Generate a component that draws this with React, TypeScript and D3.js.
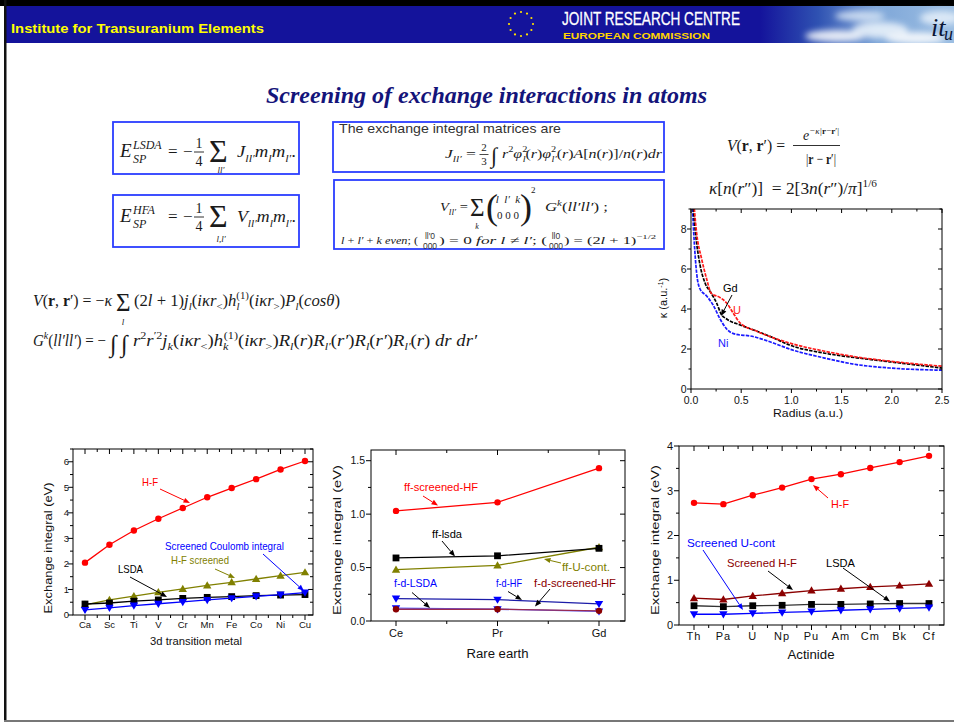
import React from "react";
import * as d3 from "d3";

/* ---------------- data ---------------- */
const tmCats = ["Ca", "Sc", "Ti", "V", "Cr", "Mn", "Fe", "Co", "Ni", "Cu"];
const tmHF = [2.05, 2.75, 3.31, 3.77, 4.19, 4.61, 4.97, 5.32, 5.7, 6.03];
const tmHFscreened = [0.4, 0.59, 0.74, 0.89, 1.02, 1.16, 1.28, 1.41, 1.54, 1.67];
const tmLSDA = [0.43, 0.47, 0.54, 0.59, 0.65, 0.69, 0.72, 0.76, 0.78, 0.8];
const tmScreenedCoulomb = [0.2, 0.28, 0.37, 0.44, 0.51, 0.59, 0.66, 0.73, 0.8, 0.88];

const reCats = ["Ce", "Pr", "Gd"];
const reFFscreenedHF = [1.03, 1.11, 1.43];
const reFFlsda = [0.59, 0.61, 0.68];
const reFFUcont = [0.48, 0.52, 0.69];
const reFdHF = [0.21, 0.2, 0.16];
const reFdLSDA = [0.12, 0.11, 0.09];
const reFdScreenedHF = [0.11, 0.11, 0.095];

const acCats = ["Th", "Pa", "U", "Np", "Pu", "Am", "Cm", "Bk", "Cf"];
const acHF = [2.73, 2.7, 2.9, 3.07, 3.26, 3.37, 3.51, 3.64, 3.78];
const acScreenedHF = [0.6, 0.57, 0.65, 0.71, 0.77, 0.81, 0.85, 0.88, 0.92];
const acLSDA = [0.43, 0.41, 0.43, 0.44, 0.46, 0.46, 0.47, 0.48, 0.48];
const acScreenedU = [0.24, 0.24, 0.26, 0.28, 0.3, 0.33, 0.35, 0.37, 0.39];

const niRadius = [0.01, 0.033, 0.056, 0.09, 0.156, 0.22, 0.29, 0.355, 0.45, 0.59, 0.82, 0.98, 1.32, 1.65, 1.98, 2.5];
const niKappa = [9.5, 7.3, 5.8, 5.0, 4.65, 4.2, 3.5, 3.0, 2.73, 2.65, 2.3, 2.0, 1.56, 1.22, 1.05, 0.94];
const gdRadius = [0.015, 0.056, 0.09, 0.14, 0.2, 0.255, 0.3, 0.355, 0.49, 0.65, 0.82, 0.98, 1.32, 1.65, 1.98, 2.5];
const gdKappa = [9.5, 7.3, 6.2, 5.3, 4.8, 4.3, 3.75, 3.5, 3.2, 2.9, 2.56, 2.2, 1.8, 1.56, 1.36, 1.05];
const uRadius = [0.025, 0.056, 0.106, 0.156, 0.2, 0.29, 0.355, 0.42, 0.49, 0.65, 0.98, 1.32, 1.65, 1.98, 2.5];
const uKappa = [9.5, 7.8, 6.5, 5.5, 4.8, 4.57, 4.3, 3.8, 3.3, 2.9, 2.3, 1.9, 1.6, 1.39, 1.14];

/* ---------------- styles ---------------- */
const SANS = "'Liberation Sans', Arial, Helvetica, sans-serif";
const SERIF = "'Liberation Serif', 'Times New Roman', Times, serif";
const BOX = "#2b3dff";

type Part = [string, string, number?];

function MT({ x, y, size, parts, len, fill = "#1a1a1a", anchor }: { x: number; y: number; size: number; parts: Part[]; len?: number; fill?: string; anchor?: string }) {
  let cur = 0;
  const spans = parts.map((p, i) => {
    const [t, m, dx] = p;
    const sub = m.includes("_");
    const sup = m.includes("^");
    const target = sub ? size * 0.28 : sup ? -size * 0.42 : 0;
    const dy = target - cur;
    cur = target;
    return (
      <tspan key={i} dx={dx} dy={dy} fontSize={sub || sup ? size * 0.65 : size}
        fontStyle={m.includes("n") || m.includes("b") ? "normal" : "italic"}
        fontWeight={m.includes("b") ? "bold" : "normal"}>{t}</tspan>
    );
  });
  return (
    <text x={x} y={y} fontFamily={SERIF} fontSize={size} fill={fill} textAnchor={anchor as any}
      textLength={len} lengthAdjust={len ? "spacingAndGlyphs" : undefined} style={{ whiteSpace: "pre" }}>
      {spans}
    </text>
  );
}

function Tx(props: any) {
  const { len, children, ...rest } = props;
  return (
    <text fontFamily={SANS} textLength={len} lengthAdjust={len ? "spacingAndGlyphs" : undefined} style={{ whiteSpace: "pre" }} {...rest}>
      {children}
    </text>
  );
}

function Mark({ kind, x, y, color }: { kind: string; x: number; y: number; color: string }) {
  if (kind === "circle") return <circle cx={x} cy={y} r={3.2} fill={color} />;
  if (kind === "square") return <rect x={x - 3.4} y={y - 3.4} width={6.8} height={6.8} fill={color} />;
  if (kind === "tri") return <path d={`M${x},${y - 4.2}L${x + 4.2},${y + 3}L${x - 4.2},${y + 3}Z`} fill={color} />;
  return <path d={`M${x},${y + 4.2}L${x + 4.2},${y - 3}L${x - 4.2},${y - 3}Z`} fill={color} />;
}

function Arrow({ x1, y1, x2, y2, color = "#000" }: { x1: number; y1: number; x2: number; y2: number; color?: string }) {
  const a = Math.atan2(y2 - y1, x2 - x1);
  const L = 6.5, W = 2.6;
  const bx = x2 - L * Math.cos(a), by = y2 - L * Math.sin(a);
  const px = -Math.sin(a) * W, py = Math.cos(a) * W;
  return (
    <g>
      <line x1={x1} y1={y1} x2={bx} y2={by} stroke={color} strokeWidth={1} />
      <path d={`M${x2},${y2}L${bx + px},${by + py}L${bx - px},${by - py}Z`} fill={color} />
    </g>
  );
}

type Series = { vals: number[]; color: string; line?: string; kind: string };

function CatChart(p: {
  cats: string[]; series: Series[]; L: number; R: number; T: number; B: number; xr: [number, number];
  yMax: number; yStep: number; yMinor: number; fmt: (v: number) => string; tickFont: number; tickX: number;
  catY: number; catFont: number; catLS?: number; children?: any;
}) {
  const x = d3.scalePoint<string>().domain(p.cats).range(p.xr);
  const y = d3.scaleLinear().domain([0, p.yMax]).range([p.B, p.T]);
  const majors = d3.range(0, p.yMax + 1e-9, p.yStep);
  const minors = d3.range(0, p.yMax + 1e-9, p.yMinor).filter((v) => !majors.some((m) => Math.abs(m - v) < 1e-9));
  const step = x.step();
  const xMinor = [x(p.cats[0])! - step / 2, ...p.cats.map((c) => x(c)! + step / 2)].filter((v) => v > p.L + 1 && v < p.R - 1);
  const line = d3.line<number>().x((_, i) => x(p.cats[i])!).y((d) => y(d));
  return (
    <g>
      <rect x={p.L} y={p.T} width={p.R - p.L} height={p.B - p.T} fill="none" stroke="#000" strokeWidth={1} />
      {majors.map((v) => (
        <g key={"M" + v}>
          <line x1={p.L - 5} x2={p.L} y1={y(v)} y2={y(v)} stroke="#000" />
          <line x1={p.R} x2={p.R - 5} y1={y(v)} y2={y(v)} stroke="#000" />
          <Tx x={p.tickX} y={y(v) + p.tickFont * 0.36} textAnchor="end" fontSize={p.tickFont} fill="#111">{p.fmt(v)}</Tx>
        </g>
      ))}
      {minors.map((v) => (
        <g key={"m" + v}>
          <line x1={p.L - 3} x2={p.L} y1={y(v)} y2={y(v)} stroke="#000" />
          <line x1={p.R} x2={p.R - 3} y1={y(v)} y2={y(v)} stroke="#000" />
        </g>
      ))}
      {p.cats.map((c) => (
        <g key={c}>
          <line x1={x(c)} x2={x(c)} y1={p.B} y2={p.B + 5} stroke="#000" />
          <line x1={x(c)} x2={x(c)} y1={p.T} y2={p.T + 5} stroke="#000" />
          <Tx x={x(c)} y={p.catY} textAnchor="middle" fontSize={p.catFont} letterSpacing={p.catLS || 0} fill="#111">{c}</Tx>
        </g>
      ))}
      {xMinor.map((v, i) => (
        <g key={"xm" + i}>
          <line x1={v} x2={v} y1={p.B} y2={p.B + 3} stroke="#000" />
          <line x1={v} x2={v} y1={p.T} y2={p.T + 3} stroke="#000" />
        </g>
      ))}
      {p.series.map((s, i) => (
        <g key={i}>
          <path d={line(s.vals)!} fill="none" stroke={s.line || s.color} strokeWidth={1.3} />
          {s.vals.map((v, j) => (
            <Mark key={j} kind={s.kind} x={x(p.cats[j])!} y={y(v)} color={s.color} />
          ))}
        </g>
      ))}
      {p.children}
    </g>
  );
}

function KappaChart() {
  const L = 691, R = 942, T = 209, B = 389;
  const x = d3.scaleLinear().domain([0, 2.5]).range([L, R]);
  const y = d3.scaleLinear().domain([0, 9]).range([B, T]);
  const xMaj = d3.range(0, 2.51, 0.5);
  const xMin = d3.range(0.25, 2.5, 0.5);
  const yMaj = [0, 2, 4, 6, 8];
  const yMin = [1, 3, 5, 7, 9];
  const curves = [
    { r: niRadius, k: niKappa, c: "#1a1aff" },
    { r: gdRadius, k: gdKappa, c: "#000" },
    { r: uRadius, k: uKappa, c: "#ff1a1a" },
  ];
  const mk = (r: number[], k: number[]) =>
    d3.line<number>().x((_, i) => x(r[i])).y((d) => y(d)).curve(d3.curveMonotoneX)(k)!;
  return (
    <g>
      <defs>
        <clipPath id="kclip"><rect x={L} y={T} width={R - L} height={B - T} /></clipPath>
      </defs>
      <g clipPath="url(#kclip)">
        {curves.map((c, i) => (
          <path key={i} d={mk(c.r, c.k)} fill="none" stroke={c.c} strokeWidth={1.7} strokeDasharray="3.5,1.2" />
        ))}
      </g>
      <rect x={L} y={T} width={R - L} height={B - T} fill="none" stroke="#000" />
      {xMaj.map((v) => (
        <g key={"x" + v}>
          <line x1={x(v)} x2={x(v)} y1={B} y2={B + 4} stroke="#000" />
          <line x1={x(v)} x2={x(v)} y1={T} y2={T + 4} stroke="#000" />
          <Tx x={x(v)} y={404} textAnchor="middle" fontSize={10.5} fill="#111">{v.toFixed(1)}</Tx>
        </g>
      ))}
      {xMin.map((v) => (
        <g key={"xm" + v}>
          <line x1={x(v)} x2={x(v)} y1={B} y2={B + 2.5} stroke="#000" />
          <line x1={x(v)} x2={x(v)} y1={T} y2={T + 2.5} stroke="#000" />
        </g>
      ))}
      {yMaj.map((v) => (
        <g key={"y" + v}>
          <line x1={L - 4} x2={L} y1={y(v)} y2={y(v)} stroke="#000" />
          <line x1={R} x2={R - 4} y1={y(v)} y2={y(v)} stroke="#000" />
          <Tx x={686.5} y={y(v) + 3.8} textAnchor="end" fontSize={10.5} fill="#111">{v}</Tx>
        </g>
      ))}
      {yMin.map((v) => (
        <g key={"ym" + v}>
          <line x1={L - 2.5} x2={L} y1={y(v)} y2={y(v)} stroke="#000" />
          <line x1={R} x2={R - 2.5} y1={y(v)} y2={y(v)} stroke="#000" />
        </g>
      ))}
      <Tx x={808} y={417} textAnchor="middle" fontSize={11.5} len={70} fill="#111">Radius (a.u.)</Tx>
      <g transform="translate(667,298) rotate(-90)">
        <Tx x={0} y={0} textAnchor="middle" fontSize={11} fill="#111">κ (a.u.<tspan dy={-4} fontSize={7}>-1</tspan><tspan dy={4}>)</tspan></Tx>
      </g>
      <Tx x={723} y={292} fontSize={11} fill="#000">Gd</Tx>
      <Arrow x1={732} y1={295} x2={721} y2={316} />
      <Tx x={733} y={314} fontSize={11} fill="#ff1a1a">U</Tx>
      <Tx x={718} y={347} fontSize={11} fill="#1a1aff">Ni</Tx>
    </g>
  );
}

function YTitle({ x, y, len, size = 11.5, ls = 0 }: { x: number; y: number; len: number; size?: number; ls?: number }) {
  return (
    <g transform={`translate(${x},${y}) rotate(-90)`}>
      <Tx x={0} y={0} textAnchor="middle" fontSize={size} len={len} letterSpacing={ls} fill="#111">Exchange integral (eV)</Tx>
    </g>
  );
}

function Header() {
  const stars = d3.range(12).map((i) => {
    const a = (i / 12) * Math.PI * 2;
    return [521 + 12 * Math.cos(a), 24 + 12 * Math.sin(a)];
  });
  return (
    <g>
      <defs>
        <linearGradient id="sky" x1="0" x2="1" y1="0" y2="0">
          <stop offset="0" stopColor="#14139b" />
          <stop offset="0.3" stopColor="#2f52b2" />
          <stop offset="0.6" stopColor="#7ea6d8" />
          <stop offset="1" stopColor="#9dbfe3" />
        </linearGradient>
        <filter id="blur" x="-50%" y="-50%" width="200%" height="200%"><feGaussianBlur stdDeviation="3" /></filter>
      </defs>
      <rect x={0} y={0} width={954} height={6} fill="#000" />
      <rect x={5} y={6} width={949} height={37} fill="#14139b" />
      <rect x={760} y={6} width={194} height={37} fill="url(#sky)" />
      <g filter="url(#blur)" opacity={0.85}>
        <ellipse cx={835} cy={36} rx={30} ry={6} fill="#fff" />
        <ellipse cx={880} cy={30} rx={28} ry={8} fill="#eef5fc" />
        <ellipse cx={915} cy={38} rx={30} ry={6} fill="#fff" />
        <ellipse cx={860} cy={16} rx={25} ry={5} fill="#dbe8f7" />
        <ellipse cx={940} cy={18} rx={20} ry={7} fill="#e6f0fa" />
      </g>
      {stars.map((s, i) => (
        <circle key={i} cx={s[0]} cy={s[1]} r={1.1} fill="#ffe000" />
      ))}
      <Tx x={11} y={33} fontSize={13} fontWeight="bold" fill="#ffff00" len={253}>Institute for Transuranium Elements</Tx>
      <Tx x={562} y={25} fontSize={19} fill="#ffffff" len={178} stroke="#ffffff" strokeWidth={0.3}>JOINT RESEARCH CENTRE</Tx>
      <Tx x={563} y={39} fontSize={9} fontWeight="bold" fill="#ffd400" len={147}>EUROPEAN COMMISSION</Tx>
      <text x={931} y={36} fontFamily={SERIF} fontStyle="italic" fontSize={26} fill="#0b1535">it</text>
      <text x={944} y={40} fontFamily={SERIF} fontStyle="italic" fontSize={18} fill="#0b1535">u</text>
    </g>
  );
}

function Equations() {
  return (
    <g fill="#1a1a1a">
      {/* box 1 */}
      <rect x={113} y={122} width={186} height={52} fill="none" stroke={BOX} strokeWidth={1.8} />
      <text x={120} y={157} fontFamily={SERIF} fontStyle="italic" fontSize={19}>E</text>
      <text x={133} y={149} fontFamily={SERIF} fontStyle="italic" fontSize={12}>LSDA</text>
      <text x={133} y={163} fontFamily={SERIF} fontStyle="italic" fontSize={12}>SP</text>
      <text x={168} y={157} fontFamily={SERIF} fontSize={17}>=</text>
      <text x={183} y={157} fontFamily={SERIF} fontSize={17}>−</text>
      <text x={199} y={148} fontFamily={SERIF} fontSize={14} textAnchor="middle">1</text>
      <line x1={194} x2={204} y1={152} y2={152} stroke="#1a1a1a" strokeWidth={0.9} />
      <text x={199} y={166} fontFamily={SERIF} fontSize={14} textAnchor="middle">4</text>
      <text x={209} y={162} fontFamily={SERIF} fontSize={32}>Σ</text>
      <text x={221} y={172.5} fontFamily={SERIF} fontStyle="italic" fontSize={9} textAnchor="middle">ll′</text>
      <MT x={237} y={157} size={17} len={59} parts={[["J", ""], ["ll′", "_"], ["m", ""], ["l", "_"], ["m", ""], ["l′", "_"], [".", "n"]]} />

      {/* box 2 */}
      <rect x={113} y={195} width={186} height={52} fill="none" stroke={BOX} strokeWidth={1.8} />
      <text x={120} y={222} fontFamily={SERIF} fontStyle="italic" fontSize={19}>E</text>
      <text x={133} y={214} fontFamily={SERIF} fontStyle="italic" fontSize={12}>HFA</text>
      <text x={133} y={228} fontFamily={SERIF} fontStyle="italic" fontSize={12}>SP</text>
      <text x={168} y={222} fontFamily={SERIF} fontSize={17}>=</text>
      <text x={183} y={222} fontFamily={SERIF} fontSize={17}>−</text>
      <text x={199} y={213} fontFamily={SERIF} fontSize={14} textAnchor="middle">1</text>
      <line x1={194} x2={204} y1={217} y2={217} stroke="#1a1a1a" strokeWidth={0.9} />
      <text x={199} y={231} fontFamily={SERIF} fontSize={14} textAnchor="middle">4</text>
      <text x={209} y={227} fontFamily={SERIF} fontSize={32}>Σ</text>
      <text x={221} y={242} fontFamily={SERIF} fontStyle="italic" fontSize={9} textAnchor="middle">l,l′</text>
      <MT x={237} y={222} size={17} len={59} parts={[["V", ""], ["ll′", "_"], ["m", ""], ["l", "_"], ["m", ""], ["l′", "_"], [".", "n"]]} />

      {/* box 3 */}
      <rect x={333} y={122} width={331} height={50} fill="none" stroke={BOX} strokeWidth={1.8} />
      <Tx x={339} y={133} fontSize={13.5} fill="#333" len={222}>The exchange integral matrices are</Tx>
      <MT x={445} y={158} size={13.5} len={31} parts={[["J", ""], ["ll′", "_"], [" =", "n"]]} />
      <text x={484} y={151} fontFamily={SERIF} fontSize={11} textAnchor="middle">2</text>
      <line x1={479.5} x2={488.5} y1={154.5} y2={154.5} stroke="#1a1a1a" strokeWidth={0.8} />
      <text x={484} y={165} fontFamily={SERIF} fontSize={11} textAnchor="middle">3</text>
      <text x={491} y={163} fontFamily={SERIF} fontSize={22}>∫</text>
      <MT x={502} y={158} size={13.5} len={160} parts={[["r", ""], ["2", "^n"], ["φ", ""], ["2", "^n"], ["l", "_", -4], ["(", "n"], ["r", ""], [")", "n"], ["φ", ""], ["2", "^n"], ["l′", "_", -4], ["(", "n"], ["r", ""], [")", "n"], ["A", ""], ["[", "n"], ["n", ""], ["(", "n"], ["r", ""], [")]/", "n"], ["n", ""], ["(", "n"], ["r", ""], [")", "n"], ["dr", ""]]} />

      {/* box 4 */}
      <rect x={334} y={180} width={330} height={69} fill="none" stroke={BOX} strokeWidth={1.8} />
      <MT x={440} y={211} size={13} len={28} parts={[["V", ""], ["ll′", "_"], [" =", "n"]]} />
      <text x={470} y={216} fontFamily={SERIF} fontSize={25}>Σ</text>
      <text x={477} y={229} fontFamily={SERIF} fontStyle="italic" fontSize={8} textAnchor="middle">k</text>
      <text x={486} y={219} fontFamily={SERIF} fontSize={36}>(</text>
      <text x={508} y={203} fontFamily={SERIF} fontStyle="italic" fontSize={11} textAnchor="middle" style={{ whiteSpace: "pre" }}>l  l′  k</text>
      <text x={508} y={219} fontFamily={SERIF} fontSize={11} textAnchor="middle" style={{ whiteSpace: "pre" }}>0 0 0</text>
      <text x={520} y={219} fontFamily={SERIF} fontSize={36}>)</text>
      <text x={531} y={193} fontFamily={SERIF} fontSize={9}>2</text>
      <MT x={545} y={211} size={13} len={63} parts={[["G", ""], ["k", "^"], ["(", "n"], ["ll′ll′", ""], [") ;", "n"]]} />
      <MT x={341} y={244} size={11} len={77} parts={[["l", ""], [" + ", "n"], ["l′", ""], [" + ", "n"], ["k even", ""], ["; (", "n"]]} />
      <Tx x={430} y={239} fontSize={8.5} textAnchor="middle" fill="#333">ll′0</Tx>
      <Tx x={430} y={249} fontSize={8.5} textAnchor="middle" fill="#333">000</Tx>
      <MT x={439} y={244} size={11} len={108} parts={[[") = 0 ", "n"], ["for l", ""], [" ≠ ", "n"], ["l′", ""], ["; (", "n"]]} />
      <Tx x={556} y={239} fontSize={8.5} textAnchor="middle" fill="#333">ll0</Tx>
      <Tx x={556} y={249} fontSize={8.5} textAnchor="middle" fill="#333">000</Tx>
      <MT x={564} y={244} size={11} len={92} parts={[[") = (2", "n"], ["l", ""], [" + 1)", "n"], ["−1/2", "^n"]]} />

      {/* right equations */}
      <MT x={727} y={151} size={16} len={58} parts={[["V", ""], ["(", "n"], ["r", "b"], [", ", "n"], ["r", "b"], ["′) =", "n"]]} />
      <MT x={803} y={140} size={14} len={36} parts={[["e", ""], ["−κ|", "^"], ["r", "^b"], ["−", "^n"], ["r", "^b"], ["′|", "^n"]]} />
      <line x1={793} x2={840} y1={145.5} y2={145.5} stroke="#1a1a1a" strokeWidth={0.9} />
      <MT x={806} y={164} size={15} len={30} parts={[["|", "n"], ["r", "b"], [" − ", "n"], ["r", "b"], ["′|", "n"]]} />
      <MT x={709} y={194} size={16} len={168} parts={[["κ", ""], ["[", "n"], ["n", ""], ["(", "n"], ["r", ""], ["″)]  = 2[3", "n"], ["n", ""], ["(", "n"], ["r", ""], ["″)/", "n"], ["π", ""], ["]", "n"], ["1/6", "^n"]]} />

      {/* middle equations */}
      <MT x={33} y={306} size={16} len={79} parts={[["V", ""], ["(", "n"], ["r", "b"], [", ", "n"], ["r", "b"], ["′) = −", "n"], ["κ", ""]]} />
      <text x={116} y={311} fontFamily={SERIF} fontSize={25}>Σ</text>
      <text x={123} y={325} fontFamily={SERIF} fontStyle="italic" fontSize={9} textAnchor="middle">l</text>
      <MT x={134} y={306} size={16} len={206} parts={[["(2", "n"], ["l", ""], [" + 1)", "n"], ["j", ""], ["l", "_"], ["(", "n"], ["iκr", ""], ["<", "_n"], [")", "n"], ["h", ""], ["l", "_"], ["(1)", "^n", -3], ["(", "n"], ["iκr", ""], [">", "_n"], [")", "n"], ["P", ""], ["l", "_"], ["(", "n"], ["cosθ", ""], [")", "n"]]} />
      <MT x={33} y={346} size={16} len={73} parts={[["G", ""], ["k", "^"], ["(", "n"], ["ll′ll′", ""], [") = −", "n"]]} />
      <text x={110} y={352} fontFamily={SERIF} fontSize={24}>∫</text>
      <text x={121} y={352} fontFamily={SERIF} fontSize={24}>∫</text>
      <MT x={133} y={346} size={16} len={344} parts={[["r", ""], ["2", "^n"], ["r", ""], ["′2", "^n"], ["j", ""], ["k", "_"], ["(", "n"], ["iκr", ""], ["<", "_n"], [")", "n"], ["h", ""], ["k", "_"], ["(1)", "^n", -4], ["(", "n"], ["iκr", ""], [">", "_n"], [")", "n"], ["R", ""], ["l", "_"], ["(", "n"], ["r", ""], [")", "n"], ["R", ""], ["l′", "_"], ["(", "n"], ["r′", ""], [")", "n"], ["R", ""], ["l", "_"], ["(", "n"], ["r′", ""], [")", "n"], ["R", ""], ["l′", "_"], ["(", "n"], ["r", ""], [")", "n"], [" dr dr′", ""]]} />
    </g>
  );
}

export default function App() {
  const RED = "#ff0000", OLIVE = "#808000", BLUE = "#0000ff", DRED = "#8b0000", NAVY = "#1c1ca8";
  return (
    <svg width={954} height={723} style={{ position: "absolute", left: 0, top: 0, background: "#fff" }} fontFamily={SANS}>
      <rect x={0} y={0} width={954} height={723} fill="#fff" />
      <Header />
      <text x={266} y={103} fontFamily={SERIF} fontStyle="italic" fontWeight="bold" fontSize={24} fill="#14147a"
        textLength={441} lengthAdjust="spacingAndGlyphs">Screening of exchange interactions in atoms</text>
      <Equations />
      <KappaChart />

      {/* 3d transition metals */}
      <CatChart cats={tmCats} L={73} R={313} T={449} B={615} xr={[85, 305]} yMax={6.5} yStep={1} yMinor={0.5}
        fmt={(v) => String(v)} tickFont={9.5} tickX={69} catY={628} catFont={9.5}
        series={[
          { vals: tmHFscreened, color: OLIVE, kind: "tri" },
          { vals: tmLSDA, color: "#000", kind: "square" },
          { vals: tmScreenedCoulomb, color: BLUE, kind: "tridown" },
          { vals: tmHF, color: RED, kind: "circle" },
        ]}>
        <Tx x={196} y={645} textAnchor="middle" fontSize={11} len={92} fill="#111">3d transition metal</Tx>
        <YTitle x={52} y={548} len={131} />
        <Tx x={142} y={486} fontSize={10.5} len={16} fill={RED}>H-F</Tx>
        <Arrow x1={160} y1={489} x2={190} y2={503} color={RED} />
        <Tx x={165} y={550} fontSize={10.5} len={119} fill={BLUE}>Screened Coulomb integral</Tx>
        <Arrow x1={263} y1={554} x2={304} y2={591} color={BLUE} />
        <Tx x={171} y={564} fontSize={10.5} len={58} fill={OLIVE}>H-F screened</Tx>
        <Arrow x1={215} y1={569} x2={235} y2={578} color={OLIVE} />
        <Tx x={118} y={573} fontSize={10.5} len={25} fill="#000">LSDA</Tx>
        <Arrow x1={130} y1={577} x2={167} y2={597} />
      </CatChart>

      {/* rare earths */}
      <CatChart cats={reCats} L={371} R={625} T={450} B={621} xr={[396, 599]} yMax={1.6} yStep={0.5} yMinor={0.25}
        fmt={(v) => v.toFixed(1)} tickFont={10.5} tickX={365} catY={637} catFont={11}
        series={[
          { vals: reFdHF, color: BLUE, line: NAVY, kind: "tridown" },
          { vals: reFdLSDA, color: BLUE, line: "#5a5aff", kind: "tridown" },
          { vals: reFdScreenedHF, color: DRED, line: "#9a2a50", kind: "circle" },
          { vals: reFFUcont, color: OLIVE, kind: "tri" },
          { vals: reFFlsda, color: "#000", kind: "square" },
          { vals: reFFscreenedHF, color: RED, kind: "circle" },
        ]}>
        <Tx x={497.5} y={658} textAnchor="middle" fontSize={12} len={62} fill="#111">Rare earth</Tx>
        <YTitle x={341} y={540} len={150} />
        <Tx x={404} y={491} fontSize={11.5} len={74} fill={RED}>ff-screened-HF</Tx>
        <Arrow x1={423} y1={496} x2={438} y2={505.5} color={RED} />
        <Tx x={432} y={538} fontSize={11.5} len={30} fill="#000">ff-lsda</Tx>
        <Arrow x1={442} y1={541} x2={455} y2={556.5} />
        <Tx x={562} y={571} fontSize={11.5} len={48} fill={OLIVE}>ff-U-cont.</Tx>
        <Arrow x1={561} y1={563} x2={544} y2={559} color={OLIVE} />
        <Tx x={394} y={587} fontSize={11.5} len={43} fill={BLUE}>f-d-LSDA</Tx>
        <Arrow x1={412} y1={592.5} x2={430} y2={608} />
        <Tx x={496} y={587} fontSize={11.5} len={26} fill={BLUE}>f-d-HF</Tx>
        <Arrow x1={508} y1={591.5} x2={522} y2={600} />
        <Tx x={534} y={587} fontSize={11.5} len={82} fill={DRED}>f-d-screened-HF</Tx>
        <Arrow x1={550} y1={589} x2={535} y2={606.5} />
      </CatChart>

      {/* actinides */}
      <CatChart cats={acCats} L={679} R={944} T={446} B={625} xr={[694, 929]} yMax={4} yStep={1} yMinor={0.5}
        fmt={(v) => String(v)} tickFont={11} tickX={673} catY={640} catFont={11} catLS={1}
        series={[
          { vals: acScreenedHF, color: DRED, kind: "tri" },
          { vals: acLSDA, color: "#000", line: "#333", kind: "square" },
          { vals: acScreenedU, color: BLUE, kind: "tridown" },
          { vals: acHF, color: RED, kind: "circle" },
        ]}>
        <Tx x={811} y={659} textAnchor="middle" fontSize={13} len={47} fill="#111">Actinide</Tx>
        <YTitle x={659} y={540} len={150} />
        <Tx x={831} y={508} fontSize={11.5} len={18} fill={RED}>H-F</Tx>
        <Arrow x1={828} y1={498} x2={813} y2={485} color={RED} />
        <Tx x={687} y={547} fontSize={11.5} len={88} fill={BLUE}>Screened U-cont</Tx>
        <Arrow x1={703} y1={550} x2={743} y2={610} color={BLUE} />
        <Tx x={727} y={567} fontSize={11.5} len={70} fill={DRED}>Screened H-F</Tx>
        <Arrow x1={768} y1={571} x2={793} y2={590} />
        <Tx x={826} y={567} fontSize={11.5} len={29} fill="#000">LSDA</Tx>
        <Arrow x1={843} y1={568} x2={890} y2={601.5} />
      </CatChart>

      {/* page border */}
      <rect x={4} y={0} width={2.5} height={722} fill="#111" />
      <rect x={4} y={720} width={950} height={2} fill="#777" />
    </svg>
  );
}
